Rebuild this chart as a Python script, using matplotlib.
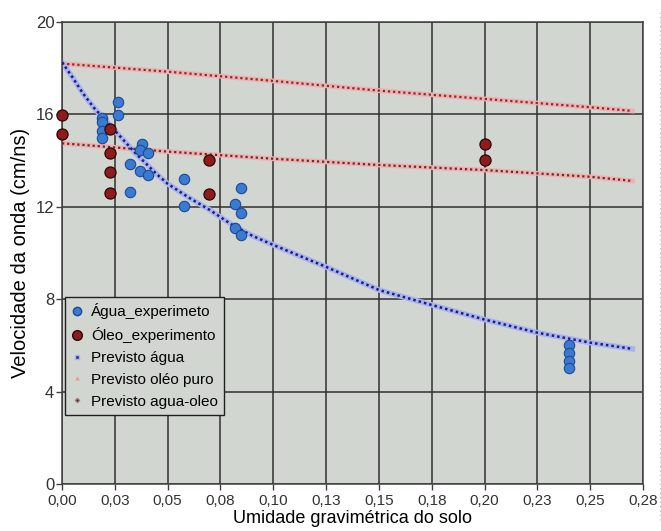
import matplotlib.pyplot as plt
from matplotlib.lines import Line2D

plt.rcParams["font.family"] = ["Liberation Sans", "DejaVu Sans"]

# medições - água
agua_x = [0.0188, 0.0188, 0.0188, 0.0188, 0.0266, 0.0266,
          0.0377, 0.0369, 0.0409, 0.0322, 0.0369, 0.0409, 0.0322,
          0.0579, 0.0579, 0.0846, 0.0819, 0.0846, 0.0819, 0.0846,
          0.2401, 0.2401, 0.2401, 0.2401]
agua_y = [15.83, 15.68, 15.28, 14.99, 16.52, 15.97,
          14.72, 14.46, 14.32, 13.84, 13.56, 13.38, 12.63,
          13.19, 12.03, 12.80, 12.12, 11.75, 11.07, 10.78,
          6.02, 5.66, 5.34, 5.01]

# medições - óleo
oleo_x = [0.0, 0.0, 0.0227, 0.0227, 0.0227, 0.0227, 0.0697, 0.0697, 0.2, 0.2]
oleo_y = [15.97, 15.14, 15.37, 14.32, 13.52, 12.61, 14.03, 12.55, 14.72, 14.03]

# curvas previstas
prev_agua_x = [0.0, 0.005, 0.01, 0.015, 0.02, 0.025, 0.03, 0.035, 0.04, 0.045,
               0.05, 0.06, 0.07, 0.08, 0.09, 0.1, 0.125, 0.15, 0.175, 0.2,
               0.225, 0.25, 0.27]
prev_agua_y = [18.26, 17.6, 16.9, 16.3, 15.8, 15.3, 14.8, 14.3, 13.85, 13.4,
               13.0, 12.4, 11.86, 11.25, 10.75, 10.35, 9.4, 8.4, 7.75, 7.12,
               6.55, 6.12, 5.85]

prev_puro_x = [0.0, 0.05, 0.1, 0.15, 0.2, 0.25, 0.27]
prev_puro_y = [18.2, 17.85, 17.45, 17.03, 16.67, 16.31, 16.15]

prev_mix_x = [0.0, 0.05, 0.1, 0.15, 0.2, 0.25, 0.27]
prev_mix_y = [14.75, 14.39, 14.08, 13.81, 13.59, 13.3, 13.12]

x_ticks = [0.0, 0.025, 0.05, 0.075, 0.1, 0.125, 0.15, 0.175, 0.2, 0.225, 0.25, 0.275]
x_tick_labels = ["0,00", "0,03", "0,05", "0,08", "0,10", "0,13",
                 "0,15", "0,18", "0,20", "0,23", "0,25", "0,28"]
y_ticks = [0, 4, 8, 12, 16, 20]

fig = plt.figure(figsize=(6.61, 5.31), dpi=100)
ax = fig.add_axes([62 / 661, 47 / 531, 581 / 661, 462 / 531])
ax.set_facecolor("#d2d6d1")

# linhas previstas: halo claro + pontilhado escuro
ax.plot(prev_puro_x, prev_puro_y, color="#eeb0b0", lw=3.5, zorder=2)
ax.plot(prev_puro_x, prev_puro_y, color="#8a2a2a", lw=1.6, ls=(0, (1, 1.3)), zorder=3)
ax.plot(prev_mix_x, prev_mix_y, color="#eeb0b0", lw=3.5, zorder=2)
ax.plot(prev_mix_x, prev_mix_y, color="#6a2a2a", lw=1.6, ls=(0, (1, 1.3)), zorder=3)
ax.plot(prev_agua_x, prev_agua_y, color="#a9b4ee", lw=4, zorder=2)
ax.plot(prev_agua_x, prev_agua_y, color="#1c1c80", lw=1.8, ls=(0, (1, 1.2)), zorder=3)

ax.plot(agua_x, agua_y, ls="none", marker="o", ms=7.5, mfc="#3a7ad0",
        mec="#1c4a98", mew=0.8, zorder=5, clip_on=False)
ax.plot(oleo_x, oleo_y, ls="none", marker="o", ms=8, mfc="#8e1c1c",
        mec="#2a0808", mew=0.9, zorder=6, clip_on=False)

ax.set_xlim(0, 0.275)
ax.set_ylim(0, 20)
ax.set_xticks(x_ticks)
ax.set_xticklabels(x_tick_labels)
ax.set_yticks(y_ticks)
ax.tick_params(direction="out", length=4, width=1, color="#404040",
               labelcolor="#333333")
ax.tick_params(axis="x", labelsize=11, pad=3.5)
ax.tick_params(axis="y", labelsize=12, pad=1.5)
ax.grid(True, color="#303030", lw=1.1)
ax.set_axisbelow(True)
for s in ax.spines.values():
    s.set_color("#404040")
    s.set_linewidth(1.1)

ax.set_xlabel("Umidade gravimétrica do solo", fontsize=13, labelpad=1)
ax.set_ylabel("Velocidade da onda (cm/ns)", fontsize=14.5, labelpad=4)

handles = [
    Line2D([], [], ls="none", marker="o", ms=6, mfc="#3a7ad0", mec="#1c4a98"),
    Line2D([], [], ls="none", marker="o", ms=7, mfc="#8e1c1c", mec="#2a0808"),
    Line2D([], [], ls="none", marker="s", ms=2.5, mfc="#2a2a90", mec="#a9b4ee"),
    Line2D([], [], ls="none", marker="^", ms=2.5, mfc="#c05020", mec="#eeb0b0"),
    Line2D([], [], ls="none", marker="D", ms=2.2, mfc="#402020", mec="#a08080"),
]
labels = ["Água_experimeto", "Óleo_experimento", "Previsto água",
          "Previsto oléo puro", "Previsto agua-oleo"]
leg = ax.legend(handles, labels, loc="upper left", bbox_to_anchor=(0.005, 0.405),
                borderaxespad=0, fontsize=11, fancybox=False, framealpha=1,
                facecolor="#d2d6d1", edgecolor="#202020", handlelength=0.8,
                handletextpad=0.5, labelspacing=0.52, borderpad=0.4)
leg.get_frame().set_linewidth(1.0)

fig.add_artist(Line2D([0.998, 0.998], [0.02, 0.98], transform=fig.transFigure,
                      color="#b0b0b0", lw=0.8, ls=(0, (1, 3))))

fig.savefig("out.png", dpi=100)
